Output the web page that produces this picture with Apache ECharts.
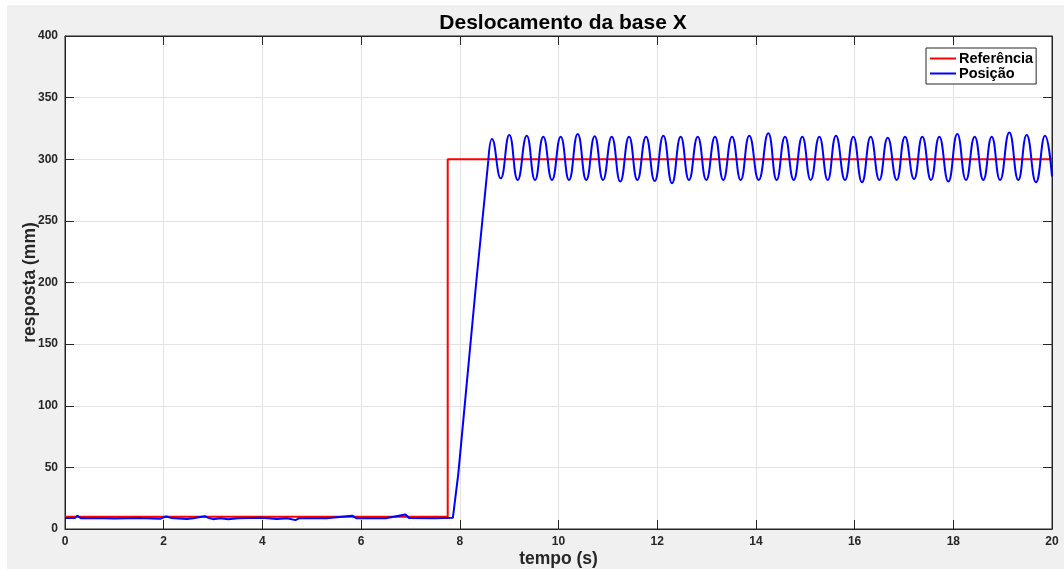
<!DOCTYPE html>
<html>
<head>
<meta charset="utf-8">
<script src="https://cdn.jsdelivr.net/npm/echarts@6/dist/echarts.min.js"></script>
<style>
  html, body { margin: 0; padding: 0; background: #ffffff; }
  #bg { position: absolute; left: 7px; top: 5px; right: 0; bottom: 0; background: #f0f0f0; }
  #chart { position: absolute; left: 0; top: 0; width: 1064px; height: 569px; }
</style>
</head>
<body>
<div id="bg"></div>
<div id="chart"></div>
<script>
// ---- data ----
const xTicks = [0, 2, 4, 6, 8, 10, 12, 14, 16, 18, 20];
const yTicks = [0, 50, 100, 150, 200, 250, 300, 350, 400];

const refTime  = [0, 7.755, 7.755, 20];
const refValue = [10, 10, 300, 300];

// blue: noisy baseline and ramp (unsmoothed)
const posBaseTime  = [0, 0.2, 0.25, 0.32, 0.8, 1.0, 1.5, 1.93, 2.05, 2.15, 2.47, 2.6, 2.83, 2.92, 3.0, 3.15, 3.31, 3.5, 4.0, 4.29, 4.5, 4.67, 4.75, 5.3, 5.82, 5.9, 6.5, 6.9, 6.97, 7.5, 7.86, 7.97, 8.33, 8.578];
const posBaseValue = [9, 9, 10.8, 8.8, 8.8, 8.5, 8.9, 8.3, 10.2, 9, 8.2, 8.8, 10.4, 8.8, 8.0, 8.8, 8.0, 8.8, 9.2, 8.2, 8.8, 7.2, 8.8, 8.8, 10.8, 8.8, 8.8, 11.8, 8.9, 8.8, 9.2, 45, 199, 299];

// blue: oscillation extrema (smoothed)
const posOscTime = [8.578, 8.652, 8.829, 9.003, 9.173, 9.356, 9.524, 9.692, 9.868, 10.045, 10.213,
  10.389, 10.563, 10.733, 10.902, 11.078, 11.252, 11.429, 11.597, 11.773, 11.949,
  12.124, 12.300, 12.476, 12.644, 12.821, 12.995, 13.171, 13.339, 13.516, 13.692,
  13.866, 14.057, 14.251, 14.421, 14.590, 14.766, 14.940, 15.110, 15.285, 15.455,
  15.623, 15.805, 15.974, 16.150, 16.326, 16.501, 16.671, 16.853, 17.021, 17.204,
  17.372, 17.548, 17.716, 17.899, 18.081, 18.257, 18.433, 18.608, 18.778, 18.947,
  19.135, 19.317, 19.487, 19.676, 19.858, 20];
const posOscValue = [299, 316.4, 284.5, 319.7, 283.2, 319.1, 283.2, 318.3, 283.2, 318.3, 283.2,
  320.5, 283.2, 318.7, 283.2, 318.3, 281.9, 318.3, 283.2, 318.3, 282.4,
  319.1, 280.5, 318.3, 283.2, 318.3, 283.2, 318.3, 283.2, 318.3, 283.2,
  319.1, 283.2, 321.0, 283.2, 318.3, 283.2, 318.3, 283.2, 318.3, 283.2,
  319.1, 283.2, 318.3, 281.3, 318.3, 283.2, 317.5, 283.2, 318.3, 284.0,
  318.3, 283.2, 318.3, 281.9, 320.5, 283.2, 318.3, 283.2, 318.3, 283.2,
  321.8, 283.2, 319.7, 281.3, 319.1, 286];

const zip = (a, b) => a.map((v, i) => [v, b[i]]);

const FONT = '"Liberation Sans", Arial, Helvetica, sans-serif';
const AX = '#262626';

const chart = echarts.init(document.getElementById('chart'), null, { renderer: 'canvas' });

const hiddenAxisCommon = {
  axisLine: { show: true, onZero: false, lineStyle: { color: AX, width: 1 } },
  axisTick: { show: true, inside: true, length: 9, lineStyle: { color: AX } },
  axisLabel: { show: false },
  splitLine: { show: false }
};

chart.setOption({
  animation: false,
  backgroundColor: 'transparent',
  title: {
    text: 'Deslocamento da base X',
    left: 558, top: 8, textAlign: 'center',
    textStyle: { fontFamily: FONT, fontSize: 21, fontWeight: 'bold', color: '#000' }
  },
  legend: {
    data: ['Referência', 'Posição'],
    orient: 'vertical',
    left: 926, top: 48,
    backgroundColor: '#ffffff',
    borderColor: AX, borderWidth: 1,
    padding: [3, 3, 3, 4],
    itemGap: 0,
    itemWidth: 26, itemHeight: 2,
    icon: 'rect',
    textStyle: { fontFamily: FONT, fontSize: 14.5, lineHeight: 15, fontWeight: 'bold', color: '#000', padding: [0, 0, 0, -2] }
  },
  grid: {
    left: 65, right: 12, top: 36, bottom: 40,
    outerBoundsMode: 'none',
    containLabel: false,
    show: true, backgroundColor: '#ffffff', borderColor: AX, borderWidth: 1
  },
  xAxis: [{
    type: 'value', min: 0, max: 20, interval: 2,
    name: 'tempo (s)', nameLocation: 'middle', nameGap: 21, nameMoveOverlap: false,
    nameTextStyle: { fontFamily: FONT, fontSize: 17.5, fontWeight: 'bold', color: AX },
    axisLine: { show: true, onZero: false, lineStyle: { color: AX, width: 1 } },
    axisTick: { show: true, inside: true, length: 9, lineStyle: { color: AX } },
    axisLabel: { fontFamily: FONT, fontSize: 12, fontWeight: 'bold', color: AX, margin: 7,
      formatter: v => xTicks.includes(v) ? String(v) : '' },
    splitLine: { show: true, lineStyle: { color: '#e3e3e3', width: 1 } }
  }, Object.assign({ type: 'value', min: 0, max: 20, interval: 2, position: 'top' }, hiddenAxisCommon)],
  yAxis: [{
    type: 'value', min: 0, max: 400, interval: 50,
    name: 'resposta (mm)', nameLocation: 'middle', nameGap: 26, nameRotate: 90, nameMoveOverlap: false,
    nameTextStyle: { fontFamily: FONT, fontSize: 17.5, fontWeight: 'bold', color: AX },
    axisLine: { show: true, onZero: false, lineStyle: { color: AX, width: 1 } },
    axisTick: { show: true, inside: true, length: 9, lineStyle: { color: AX } },
    axisLabel: { fontFamily: FONT, fontSize: 12, fontWeight: 'bold', color: AX, margin: 7,
      formatter: v => yTicks.includes(v) ? String(v) : '' },
    splitLine: { show: true, lineStyle: { color: '#e3e3e3', width: 1 } }
  }, Object.assign({ type: 'value', min: 0, max: 400, interval: 50, position: 'right' }, hiddenAxisCommon)],
  series: [
    {
      name: 'Referência', type: 'line', data: zip(refTime, refValue),
      showSymbol: false, symbol: 'none',
      lineStyle: { color: '#ff0000', width: 2 }, itemStyle: { color: '#ff0000' }
    },
    {
      name: 'Posição', type: 'line', data: zip(posBaseTime, posBaseValue),
      showSymbol: false, symbol: 'none',
      lineStyle: { color: '#0000ff', width: 2 }, itemStyle: { color: '#0000ff' }
    },
    {
      name: 'Posição', type: 'line', data: zip(posOscTime, posOscValue),
      showSymbol: false, symbol: 'none', smooth: 0.5,
      lineStyle: { color: '#0000ff', width: 2 }, itemStyle: { color: '#0000ff' }
    }
  ]
});
</script>
</body>
</html>
